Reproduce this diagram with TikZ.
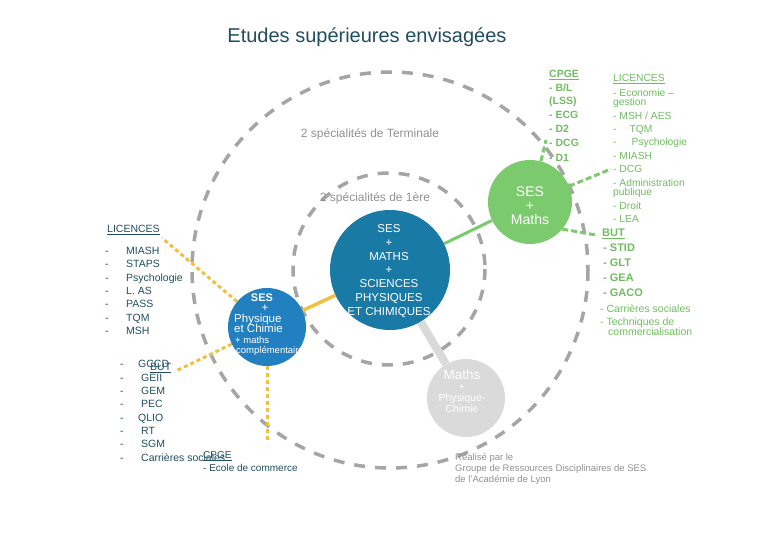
\documentclass[tikz,border=0pt]{standalone}
\usepackage{fontspec}
\setmainfont{Liberation Sans}
\usetikzlibrary{backgrounds}
\definecolor{cTeal}{RGB}{32,78,96}
\definecolor{cBlue}{RGB}{26,122,166}
\definecolor{cBlueB}{RGB}{34,128,192}
\definecolor{cGreen}{RGB}{124,202,110}
\definecolor{cGreenT}{RGB}{112,188,96}
\definecolor{cRing}{RGB}{165,165,165}
\definecolor{cLight}{RGB}{218,218,218}
\definecolor{cYellow}{RGB}{240,192,64}
\definecolor{cGrayT}{RGB}{145,145,145}
\tikzset{
  ring/.style={draw=cRing, line width=3.5pt, dash pattern=on 11pt off 10pt},
  bubble/.style={circle, inner sep=0pt, text=white, align=center},
  gline/.style={draw=cGreen, line width=3pt},
  gdash/.style={draw=cGreen, line width=3pt, dash pattern=on 6pt off 3pt},
  ydot/.style={draw=cYellow, line width=3pt, dash pattern=on 4pt off 3pt},
  yline/.style={draw=cYellow, line width=3.5pt},
  lline/.style={draw=cLight, line width=8pt},
  txt/.style={anchor=base west, inner sep=0pt},
  gtxt/.style={txt, text=cGreenT, font=\fontsize{10.3}{12}\selectfont},
  gtxtb/.style={txt, text=cGreenT, font=\fontsize{10.5}{12}\selectfont},
  gbold/.style={txt, text=cGreenT, font=\fontsize{10.5}{12}\selectfont\bfseries},
  ttxt/.style={txt, text=cTeal, font=\fontsize{10.5}{12}\selectfont},
  foot/.style={txt, text=cGrayT, font=\fontsize{9.5}{11}\selectfont},
}
\begin{document}
\begin{tikzpicture}[x=1pt,y=-1pt]
\useasboundingbox (0,0) rectangle (780,540);

% centres of rings
\coordinate (ctr) at (390,270);
\coordinate (ctr2) at (389,269);

% title and ring labels
\node[anchor=base, inner sep=0pt, text=cTeal, font=\fontsize{20}{24}\selectfont] (title) at (367,43) {Etudes supérieures envisagées};
\node[anchor=base, inner sep=0pt, text=cGrayT, font=\fontsize{12}{14}\selectfont] (term) at (370,137.5) {2 spécialités de Terminale};
\node[anchor=base, inner sep=0pt, text=cGrayT, font=\fontsize{12}{14}\selectfont] (prem) at (375,201.5) {2 spécialités de 1ère};

% bubbles
\node[bubble, fill=cBlue, minimum size=120pt] (big) at (390,270) {};
\node[inner sep=0pt, text=white, align=center, font=\fontsize{11.5}{13.7}\selectfont] (bigtxt) at (389,271)
  {SES\\+\\MATHS\\+\\SCIENCES\\PHYSIQUES\\ET CHIMIQUES};
\node[bubble, fill=cGreen, minimum size=84pt] (grn) at (530,202) {};
\node[inner sep=0pt, text=white, align=center, font=\fontsize{14}{14}\selectfont] (grntxt) at (530,206)
  {SES\\+\\Maths};
\node[bubble, fill=cLight, minimum size=78pt] (gry) at (466,398) {};
\node[bubble, fill=cBlueB, minimum size=78pt] (lb) at (267,327) {};

% text in grey bubble
\node[inner sep=0pt, text=white, align=center, font=\fontsize{10.5}{12}\selectfont] (grytxt) at (462,391)
  {{\fontsize{13.5}{13}\selectfont Maths}\\[-1pt]+\\[-1pt]Physique-\\[-1.5pt]Chimie};

% text in left blue bubble
\node[anchor=base, inner sep=0pt, text=white, font=\fontsize{11}{12}\selectfont\bfseries] (lb1) at (262,302) {SES};
\node[anchor=base, inner sep=0pt, text=white, font=\fontsize{11.5}{12}\selectfont] (lb2) at (265,312) {+};
\node[txt, text=white, font=\fontsize{11.5}{12}\selectfont] (lb3) at (234,322.5) {Physique};
\node[txt, text=white, font=\fontsize{11.5}{12}\selectfont] (lb4) at (234,333) {et Chimie};
\node[txt, text=white, font=\fontsize{9.5}{11}\selectfont] (lb5) at (235,343.5) {+ maths};
\node[txt, text=white, font=\fontsize{9.5}{11}\selectfont] (lb6) at (236,353.5) {complémentaire};

% green CPGE list
\node[gbold] (gc0) at (549,78) {\underline{CPGE}};
\node[gbold] (gc1) at (549,92) {- B/L};
\node[gbold] (gc2) at (549,105) {(LSS)};
\node[gbold] (gc3) at (549,118.5) {- ECG};
\node[gbold] (gc4) at (549,133) {- D2};
\node[gbold] (gc5) at (549,147) {- DCG};
\node[gbold] (gc6) at (549,162) {- D1};

% green LICENCES list
\node[gtxt] (gl0) at (613,81.5) {\underline{LICENCES}};
\node[gtxt] (gl1) at (613,96.5) {- Economie –};
\node[gtxt] (gl2) at (613,105.5) {gestion};
\node[gtxt] (gl3) at (613,119.5) {- MSH / AES};
\node[gtxt] (gl4) at (613,132.5) {-\hskip 13pt TQM};
\node[gtxt] (gl5) at (613,145.5) {-\hskip 15pt Psychologie};
\node[gtxt] (gl6) at (613,159.5) {- MIASH};
\node[gtxt] (gl7) at (613,172.5) {- DCG};
\node[gtxt] (gl8) at (613,186.5) {- Administration};
\node[gtxt] (gl9) at (613,195.5) {publique};
\node[gtxt] (gl10) at (613,209.5) {- Droit};
\node[gtxt] (gl11) at (613,222.5) {- LEA};

% green BUT list
\node[gbold, font=\fontsize{11}{12}\selectfont\bfseries] (gb0) at (602,237) {\underline{BUT}};
\node[gbold, font=\fontsize{11}{12}\selectfont\bfseries] (gb1) at (603,252) {- STID};
\node[gbold, font=\fontsize{11}{12}\selectfont\bfseries] (gb2) at (603,266.5) {- GLT};
\node[gbold, font=\fontsize{11}{12}\selectfont\bfseries] (gb3) at (603,281.5) {- GEA};
\node[gbold, font=\fontsize{11}{12}\selectfont\bfseries] (gb4) at (603,296.5) {- GACO};
\node[gtxtb] (gb5) at (600,312.5) {- Carrières sociales};
\node[gtxtb] (gb6) at (600,325.5) {- Techniques de};
\node[gtxtb] (gb7) at (608,335.5) {commercialisation};

% left LICENCES list
\node[ttxt] (tl0) at (107,233) {\underline{LICENCES}};
\foreach \t [count=\i] in {MIASH,STAPS,Psychologie,L. AS,PASS,TQM,MSH} {
  \node[ttxt] (tld\i) at (105,241.3+13.33*\i) {-};
  \node[ttxt] (tl\i) at (126,241.3+13.33*\i) {\t};
}

% left BUT list
\node[ttxt] (tbG) at (138,367.7) {GCCD};
\node[ttxt] (tb0) at (150,370.5) {\underline{BUT}};
\foreach \t/\xx/\yy [count=\i] in {GEII/141/381.7,GEM/141/394.7,PEC/141/407.7,QLIO/138/421.7,RT/141/434.7,SGM/141/447.7,Carrières sociales/141/461.7} {
  \node[ttxt] (tb\i) at (\xx,\yy) {\t};
}
\foreach \yy [count=\i] in {367.7,381.7,394.7,407.7,421.7,434.7,447.7,461.7} {
  \node[ttxt] (tbd\i) at (120,\yy) {-};
}
\node[ttxt, font=\fontsize{10}{12}\selectfont] (cp0) at (203,458.5) {\underline{CPGE}};
\node[ttxt, font=\fontsize{10}{12}\selectfont] (cp1) at (203,471.7) {- Ecole de commerce};

% footer
\node[foot] (f1) at (455,460.5) {Réalisé par le};
\node[foot] (f2) at (455,471.5) {Groupe de Ressources Disciplinaires de SES};
\node[foot] (f3) at (455,482.5) {de l'Académie de Lyon};

% connector end points
\coordinate (yl1) at (162,238);
\coordinate (yl2) at (176,371);
\coordinate (yl3) at (267,441);
\coordinate (ge1) at (546,140);
\coordinate (ge2) at (611,169);
\coordinate (ge3) at (596,235);

\begin{scope}[on background layer]
  \draw[ring] (ctr) circle[radius=198];
  \draw[ring] (ctr2) circle[radius=96];
  \draw[lline] (big) -- (gry);
  \draw[gline] (big) -- (grn);
  \draw[yline] (big) -- (lb);
  \draw[ydot] (lb) -- (yl1);
  \draw[ydot] (lb) -- (yl2);
  \draw[ydot] (lb) -- (yl3);
  \draw[gdash] (grn.75) -- (ge1);
  \draw[gdash] (grn.22) -- (ge2);
  \draw[gdash] (grn.-40) -- (ge3);
\end{scope}
\end{tikzpicture}
\end{document}
